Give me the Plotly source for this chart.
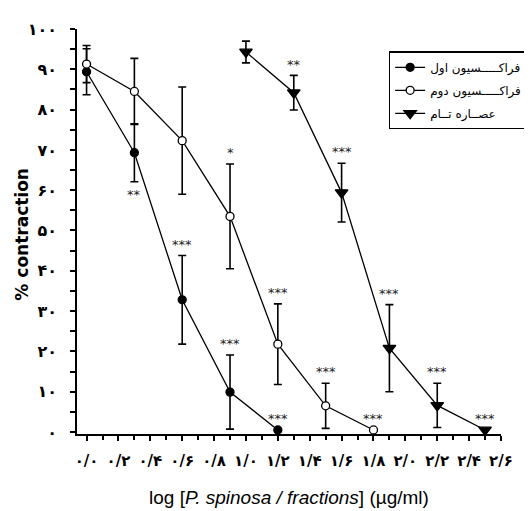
import plotly.graph_objects as go

# ---- data ----
x_f1 = [0.0, 0.3, 0.6, 0.9, 1.2]
y_f1 = [89.4, 69.3, 32.8, 9.9, 0.5]
e_f1 = [5.7, 7.2, 11.0, 9.2, 0.0]

x_f2 = [0.0, 0.3, 0.6, 0.9, 1.2, 1.5, 1.8]
y_f2 = [91.3, 84.5, 72.3, 53.5, 21.8, 6.5, 0.5]
e_f2 = [4.6, 8.2, 13.3, 13.0, 10.0, 5.6, 0.0]

x_t = [1.0, 1.3, 1.6, 1.9, 2.2, 2.5]
y_t = [94.3, 84.2, 59.4, 20.8, 6.6, 0.5]
e_t = [2.7, 4.3, 7.3, 10.8, 5.5, 0.0]

names = ["فراکـــــسیون اول", "فراکـــــسیون دوم", "عصــاره تــام"]

# significance marks: (series, point index, text, above?)
stars = [
    ("f1", 1, "**", False), ("f1", 2, "***", True), ("f1", 3, "***", True), ("f1", 4, "***", True),
    ("f2", 3, "*", True), ("f2", 4, "***", True), ("f2", 5, "***", True), ("f2", 6, "***", True),
    ("t", 1, "**", True), ("t", 2, "***", True), ("t", 3, "***", True), ("t", 4, "***", True), ("t", 5, "***", True),
]

x_tickvals = [0.0, 0.2, 0.4, 0.6, 0.8, 1.0, 1.2, 1.4, 1.6, 1.8, 2.0, 2.2, 2.4, 2.6]
x_ticktext = ["۰/۰", "۰/۲", "۰/۴", "۰/۶", "۰/۸", "۱/۰", "۱/۲", "۱/۴", "۱/۶", "۱/۸", "۲/۰", "۲/۲", "۲/۴", "۲/۶"]
y_tickvals = [0, 10, 20, 30, 40, 50, 60, 70, 80, 90, 100]
y_ticktext = ["۰", "۱۰", "۲۰", "۳۰", "۴۰", "۵۰", "۶۰", "۷۰", "۸۰", "۹۰", "۱۰۰"]

series = {"f1": (x_f1, y_f1, e_f1), "f2": (x_f2, y_f2, e_f2), "t": (x_t, y_t, e_t)}

fig = go.Figure()

def add(x, y, e, name, symbol, fill, size, grp):
    fig.add_trace(go.Scatter(
        x=x, y=y, name=name, mode="lines+markers", legendgroup=grp,
        line=dict(color="black", width=1.3),
        marker=dict(symbol=symbol, size=size, color=fill, line=dict(color="black", width=1.3)),
        error_y=dict(type="data", array=e, visible=True, color="black", thickness=1.6, width=4),
        cliponaxis=False,
    ))

add(x_f1, y_f1, e_f1, names[0], "circle", "black", 8, "a")
add(x_f2, y_f2, e_f2, names[1], "circle", "white", 8, "b")
add(x_t, y_t, e_t, names[2], "triangle-down", "black", 11, "c")

for key, i, txt, above in stars:
    xs, ys, es = series[key]
    yy = ys[i] + es[i] + 2.8 if above else ys[i] - es[i] - 3.2
    fig.add_annotation(x=xs[i], y=yy, text=txt, showarrow=False,
                       font=dict(size=13, color="#222", family="DejaVu Sans"),
                       xanchor="center", yanchor="middle")

# axis titles as annotations
fig.add_annotation(xref="paper", yref="paper", x=-0.129, y=0.493,
                   text="<b>% contraction</b>", textangle=-90, showarrow=False,
                   font=dict(size=17, family="DejaVu Sans", color="black"),
                   xanchor="center", yanchor="middle")
fig.add_annotation(xref="paper", yref="paper", x=0.499, y=-0.158,
                   text="log [<i>P. spinosa / fractions</i>] (µg/ml)", showarrow=False,
                   font=dict(size=19, family="Liberation Sans", color="black"),
                   xanchor="center", yanchor="middle")

fig.update_layout(
    width=532, height=511,
    margin=dict(l=69, r=22, t=16, b=85),
    plot_bgcolor="white", paper_bgcolor="white",
    showlegend=True,
    legend=dict(x=0.735, y=0.945, xanchor="left", yanchor="top",
                bordercolor="black", borderwidth=1.5, bgcolor="white",
                font=dict(size=12, color="black", family="DejaVu Sans"),
                itemwidth=30, tracegroupgap=4, traceorder="grouped",
                entrywidth=88, entrywidthmode="pixels"),
    font=dict(family="Liberation Sans", color="black"),
)

fig.update_xaxes(
    range=[-0.06, 2.6], showline=True, linecolor="black", linewidth=1.5,
    showgrid=False, zeroline=False,
    tickmode="array", tickvals=x_tickvals, ticktext=x_ticktext,
    ticks="outside", ticklen=5, tickwidth=1.5, tickcolor="black",
    minor=dict(dtick=0.1, tick0=0, ticks="outside", ticklen=4, tickwidth=1.5, tickcolor="black"),
    tickfont=dict(size=15, family="DejaVu Sans", color="black", weight="bold"),
    ticklabelstandoff=7,
)
fig.update_yaxes(
    range=[-0.5, 100], showline=True, linecolor="black", linewidth=1.5,
    showgrid=False, zeroline=False,
    tickmode="array", tickvals=y_tickvals, ticktext=y_ticktext,
    ticks="outside", ticklen=5, tickwidth=1.5, tickcolor="black",
    minor=dict(dtick=5, tick0=0, ticks="outside", ticklen=5, tickwidth=1.5, tickcolor="black"),
    tickfont=dict(size=16, family="DejaVu Sans", color="black", weight="bold"),
    ticklabelstandoff=10,
)

fig.write_html("out.html")
